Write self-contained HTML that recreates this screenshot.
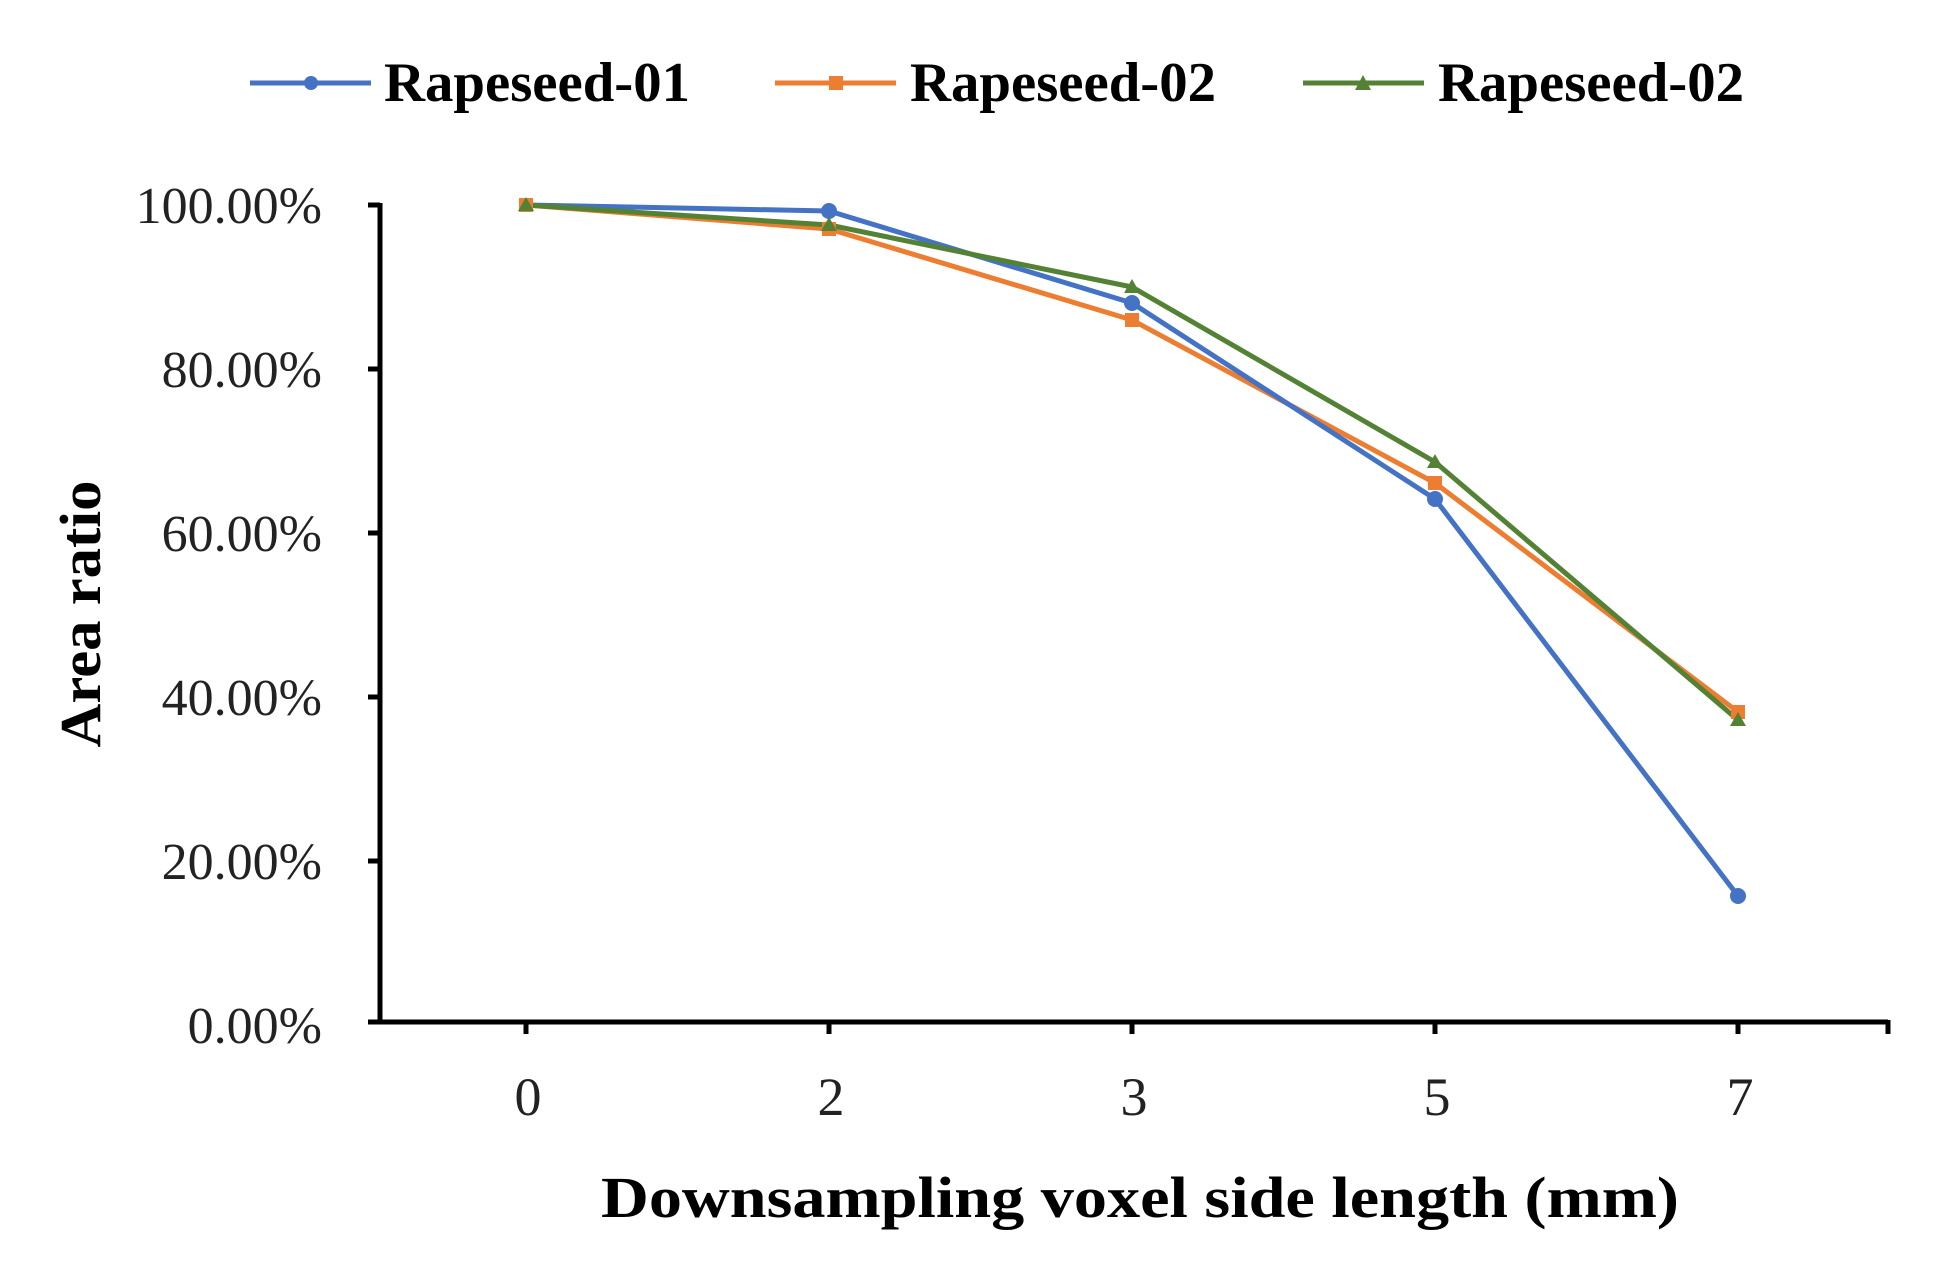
<!DOCTYPE html>
<html><head><meta charset="utf-8"><style>html,body{margin:0;padding:0;background:#fff}</style></head>
<body>
<svg width="1942" height="1283" viewBox="0 0 1942 1283" xmlns="http://www.w3.org/2000/svg" font-family="Liberation Serif, serif">
<rect width="1942" height="1283" fill="#fff"/>
<!-- legend -->
<g stroke-width="5">
<line x1="250" y1="83" x2="371" y2="83" stroke="#4472C4"/><circle cx="311" cy="83" r="7" fill="#4472C4"/>
<line x1="775" y1="83" x2="896" y2="83" stroke="#ED7D31"/><rect x="829" y="76" width="14" height="14" fill="#ED7D31"/>
<line x1="1303" y1="83" x2="1424" y2="83" stroke="#548235"/><polygon points="1363,75 1371,90 1355,90" fill="#548235"/>
</g>
<g font-weight="bold" font-size="56" fill="#000">
<text x="384" y="101" textLength="306" lengthAdjust="spacingAndGlyphs">Rapeseed-01</text>
<text x="910" y="101" textLength="306" lengthAdjust="spacingAndGlyphs">Rapeseed-02</text>
<text x="1438" y="101" textLength="306" lengthAdjust="spacingAndGlyphs">Rapeseed-02</text>
</g>
<!-- axes -->
<g stroke="#000" stroke-width="5" fill="none">
<line x1="380" y1="203" x2="380" y2="1024"/>
<line x1="368" y1="1022" x2="1888" y2="1022"/>
<line x1="368" y1="205" x2="380" y2="205"/>
<line x1="368" y1="369" x2="380" y2="369"/>
<line x1="368" y1="533" x2="380" y2="533"/>
<line x1="368" y1="697" x2="380" y2="697"/>
<line x1="368" y1="861" x2="380" y2="861"/>
<line x1="526" y1="1022" x2="526" y2="1034"/>
<line x1="829" y1="1022" x2="829" y2="1034"/>
<line x1="1132" y1="1022" x2="1132" y2="1034"/>
<line x1="1435" y1="1022" x2="1435" y2="1034"/>
<line x1="1738" y1="1022" x2="1738" y2="1034"/>
<line x1="1888" y1="1020" x2="1888" y2="1034"/>
</g>
<g font-size="52" fill="#222" text-anchor="end">
<text x="322" y="223">100.00%</text>
<text x="322" y="387">80.00%</text>
<text x="322" y="551">60.00%</text>
<text x="322" y="715">40.00%</text>
<text x="322" y="879">20.00%</text>
<text x="322" y="1043">0.00%</text>
</g>
<g font-size="54" fill="#222" text-anchor="middle">
<text x="528" y="1115">0</text><text x="831" y="1115">2</text><text x="1134" y="1115">3</text><text x="1437" y="1115">5</text><text x="1740" y="1115">7</text>
</g>
<text x="601" y="1217" font-size="58" font-weight="bold" textLength="1078" lengthAdjust="spacingAndGlyphs">Downsampling voxel side length (mm)</text>
<text transform="translate(100,614) rotate(-90)" text-anchor="middle" font-size="58" font-weight="bold" textLength="267" lengthAdjust="spacingAndGlyphs">Area ratio</text>
<g fill="none" stroke-width="5" stroke-linejoin="round">
<polyline stroke="#ED7D31" points="526,205 829,229 1132,320 1435,483 1738,712"/>
<polyline stroke="#4472C4" points="526,205 829,211 1132,303 1435,499 1738,896"/>
<polyline stroke="#548235" points="526,205 829,225 1132,287 1435,462 1738,720"/>
</g>
<g fill="#ED7D31">
<rect x="519" y="198" width="14" height="14"/><rect x="822" y="222" width="14" height="14"/><rect x="1125" y="313" width="14" height="14"/><rect x="1428" y="476" width="14" height="14"/><rect x="1731" y="705" width="14" height="14"/>
</g>
<g fill="#4472C4">
<circle cx="829" cy="211" r="8"/><circle cx="1132" cy="303" r="8"/><circle cx="1435" cy="499" r="8"/><circle cx="1738" cy="896" r="8"/>
</g>
<g fill="#548235">
<polygon points="526,197 534,211 518,211"/><polygon points="829,217 837,231 821,231"/><polygon points="1132,279 1140,293 1124,293"/><polygon points="1435,454 1443,468 1427,468"/><polygon points="1738,712 1746,726 1730,726"/>
</g>
</svg>
</body></html>
